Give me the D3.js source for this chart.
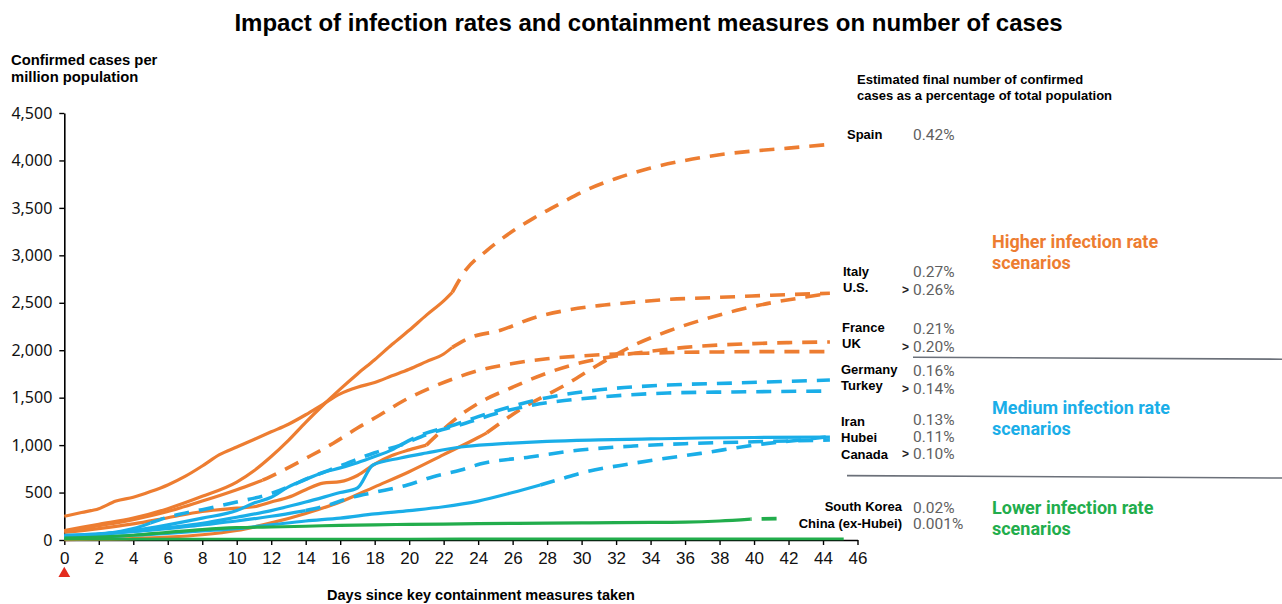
<!DOCTYPE html>
<html>
<head>
<meta charset="utf-8">
<script src="https://cdn.jsdelivr.net/npm/d3@7/dist/d3.min.js"></script>
<style>
  body { margin: 0; background: #fff; }
  svg { display: block; }
</style>
</head>
<body>
<svg id="chart" width="1282" height="604"></svg>
<script>
// Confirmed cases per million population, as [day since containment, cases] pairs.
// "Actual" parts are drawn solid, "projected" parts dashed.
const spainActual = [[0,100],[2,165],[4,230],[6,330],[8,460],[10,610],[11,730],[12,880],[13,1050],[14,1240],[15,1420],[16,1590],[17,1750],[18,1900],[19,2060],[20,2210],[21,2370],[22,2520],[22.5,2610]];
const spainProjected = [[22.5,2610],[23.3,2850],[24.5,3050],[25.8,3230],[27.2,3390],[28.8,3550],[30.3,3690],[32,3810],[34,3920],[36,4000],[38,4060],[40,4100],[42,4130],[44.4,4170]];

const italyActual = [[0,250],[1,290],[2,330],[3,410],[4,450],[5,510],[6,580],[7,670],[8,780],[9,900],[10,980],[11,1060],[12,1140],[13,1220],[14,1320],[15,1430],[16,1540],[17,1610],[18,1660],[19,1730],[20,1800],[21,1880],[22,1960],[22.5,2030]];
const italyProjected = [[22.5,2030],[23.5,2130],[25.3,2210],[27.2,2340],[29.1,2420],[31,2470],[33,2505],[35,2535],[37,2550],[39,2565],[41,2580],[44.4,2600]];

const usActual = [[0,5],[2,8],[4,15],[6,30],[8,55],[10,100],[12,180],[14,280],[16,400],[18,560],[20,720],[22,900],[24,1080],[24.5,1130]];
const usProjected = [[24.5,1130],[26.4,1370],[29.2,1650],[31,1850],[33,2050],[35,2200],[37,2320],[39,2420],[41,2500],[43,2560],[44.4,2600]];

const franceActual = [[0,80],[2,120],[4,170],[6,235],[8,300],[10,335],[11,350],[12,400],[13,450],[14,530],[15,600],[16,615],[17,680],[18,800],[19,890],[20,950],[21,1000]];
const franceProjected = [[21,1000],[22,1170],[23,1320],[24,1440],[26,1610],[28,1760],[30,1870],[32,1940],[34,1990],[36,2030],[38,2055],[40,2070],[42,2080],[44.4,2087]];

const ukActual = [[0,90],[2,150],[4,215],[6,300],[8,410],[10,530],[11.5,630]];
const ukProjected = [[11.5,630],[12.5,717],[14,860],[15.6,1020],[17,1180],[18.3,1317],[19.7,1470],[21.2,1600],[22.8,1715],[24.1,1790],[26,1860],[28,1910],[30,1940],[32,1960],[34,1970],[36,1978],[38,1982],[40,1985],[44.4,1985]];

const germanyActual = [[0,40],[2,60],[4,100],[6,160],[8,230],[10,310],[11,390],[12,450],[13,560],[14,640],[15,710],[16,760],[17,815],[18,880],[19,950],[19.5,1000]];
const germanyProjected = [[19.5,1000],[20.4,1085],[22.6,1212],[24,1300],[26,1410],[28,1500],[30,1560],[32,1600],[35,1633],[38.8,1654],[44.4,1686]];

const turkeyActual = [[0,30],[2,60],[4,120],[5,180]];
const turkeyProjected = [[5,180],[6,240],[8,320],[10,400],[12,490],[13,560],[14,640],[16,780],[18,920],[19.5,1000],[21,1110],[23.3,1233],[25,1330],[27.2,1423],[29,1470],[31.1,1507],[35,1549],[38.8,1560],[44.4,1570]];

const iranActual = [[0,50],[2,65],[4,90],[6,120],[8,160],[10,200],[12,250],[14,310]];
const iranProjected = [[14,310],[15,351],[16.8,456],[18.1,506],[19.9,580],[21.4,667],[23,737],[24.1,800],[27,875],[29.9,948],[33,990],[36,1015],[40,1035],[44.4,1054]];

const hubeiActual = [[0,40],[2,60],[4,90],[6,130],[8,175],[10,240],[12,310],[14,400],[16,500],[17,548],[17.9,790],[19.5,864],[21,917],[23,980],[25,1010],[28,1040],[31,1055],[34,1065],[37,1075],[40,1080],[44.4,1085]];
const hubeiProjected = [];

const canadaActual = [[0,20],[2,30],[4,50],[6,70],[8,95],[10,120],[12,160],[14,200],[16,230],[18,275],[20,310],[22,350],[24,410],[26,500],[27.6,580]];
const canadaProjected = [[27.6,580],[28.6,632],[29.9,703],[33,808],[36.9,913],[40.8,1018],[42,1040],[44.4,1090]];

const southKoreaActual = [[0,20],[2,30],[4,50],[6,80],[8,110],[10,130],[12,137],[14,145],[16,155],[18,160],[20,165],[22,168],[24,172],[26,175],[28,178],[30,180],[32,183],[34,185],[36,188],[38,200],[39.8,220]];
const southKoreaProjected = [[39.8,220],[41.5,226]];

const chinaExHubeiActual = [[0,8],[10,10],[20,11],[30,12],[45.2,12]];
const chinaExHubeiProjected = [];

// Labels
const countryNames = ["Spain","Italy","U.S.","France","UK","Germany","Turkey","Iran","Hubei","Canada","South Korea","China (ex-Hubei)"];
const finalShares = ["0.42%","0.27%","0.26%","0.21%","0.20%","0.16%","0.14%","0.13%","0.11%","0.10%","0.02%","0.001%"];
const stillRising = [false,false,true,false,true,false,true,false,false,true,false,false];
const scenarioNames = [["Higher infection rate","scenarios"],["Medium infection rate","scenarios"],["Lower infection rate","scenarios"]];
const dayTicks = [0,2,4,6,8,10,12,14,16,18,20,22,24,26,28,30,32,34,36,38,40,42,44,46];
const caseTicks = [0,500,1000,1500,2000,2500,3000,3500,4000,4500];

const titleText = "Impact of infection rates and containment measures on number of cases";
const yTitle = ["Confirmed cases per","million population"];
const xTitle = "Days since key containment measures taken";
const shareTitle = ["Estimated final number of confirmed","cases as a percentage of total population"];

// Series table used for drawing
const groupColor = { high: "#ED7D31", medium: "#1AAEE8", low: "#22AD4C" };
const series = [
  { name: "Spain",  group: "high",   actual: spainActual,   projected: spainProjected },
  { name: "Italy",  group: "high",   actual: italyActual,   projected: italyProjected },
  { name: "U.S.",   group: "high",   actual: usActual,      projected: usProjected },
  { name: "France", group: "high",   actual: franceActual,  projected: franceProjected },
  { name: "UK",     group: "high",   actual: ukActual,      projected: ukProjected },
  { name: "Germany",group: "medium", actual: germanyActual, projected: germanyProjected },
  { name: "Turkey", group: "medium", actual: turkeyActual,  projected: turkeyProjected },
  { name: "Iran",   group: "medium", actual: iranActual,    projected: iranProjected },
  { name: "Hubei",  group: "medium", actual: hubeiActual,   projected: hubeiProjected },
  { name: "Canada", group: "medium", actual: canadaActual,  projected: canadaProjected },
  { name: "South Korea", group: "low", actual: southKoreaActual, projected: southKoreaProjected, dashStart: 14 },
  { name: "China (ex-Hubei)", group: "low", actual: chinaExHubeiActual, projected: chinaExHubeiProjected, thin: true }
];

const svg = d3.select("#chart");
const x = d3.scaleLinear().domain([0, 46]).range([64.3, 857.5]);
const y = d3.scaleLinear().domain([0, 4500]).range([540, 113]);

// Title
svg.append("text")
  .attr("x", 648.5).attr("y", 30.5)
  .attr("text-anchor", "middle")
  .style("font-family", "'Liberation Sans', Arial, sans-serif")
  .style("font-weight", "bold").style("font-size", "24px")
  .text(titleText);

// Y axis title
svg.append("g").selectAll("text").data(yTitle).join("text")
  .attr("x", 11).attr("y", (d, i) => 65 + i * 17)
  .style("font-family", "'Liberation Sans', Arial, sans-serif")
  .style("font-weight", "bold").style("font-size", "14.8px")
  .text(d => d);

// Axes
const yAxis = svg.append("g")
  .attr("transform", `translate(${x(0)},0)`)
  .call(d3.axisLeft(y).tickValues(caseTicks).tickFormat(d3.format(",")).tickSize(5).tickSizeOuter(0).tickPadding(7));
yAxis.selectAll("text")
  .style("font-family", "'Noto Sans', 'Open Sans', sans-serif")
  .style("font-size", "16px").attr("fill", "#111");

const xAxis = svg.append("g")
  .attr("transform", `translate(0,${y(0)})`)
  .call(d3.axisBottom(x).tickValues(dayTicks).tickSize(5).tickSizeOuter(0).tickPadding(7));
xAxis.selectAll("text")
  .style("font-family", "'Liberation Sans Narrow', 'Liberation Sans', sans-serif")
  .style("font-size", "17px").attr("fill", "#111");

[yAxis, xAxis].forEach(g => {
  g.select(".domain").attr("stroke", "#000").attr("stroke-width", 1.6);
  g.selectAll(".tick line").attr("stroke", "#000").attr("stroke-width", 1.4);
});

// Marker below day 0
svg.append("path")
  .attr("d", d3.symbol(d3.symbolTriangle, 60)())
  .attr("transform", `translate(${x(0)},573.5)`)
  .attr("fill", "#E32B1E");

// X axis title
svg.append("text")
  .attr("x", 481).attr("y", 600)
  .attr("text-anchor", "middle")
  .style("font-family", "'Liberation Sans', Arial, sans-serif")
  .style("font-weight", "bold").style("font-size", "14.5px")
  .text(xTitle);

// Lines
const line = d3.line().x(d => x(d[0])).y(d => y(d[1])).curve(d3.curveMonotoneX);
const lineG = svg.append("g").attr("fill", "none").attr("stroke-linecap", "butt");
const drawOrder = ["high", "medium", "low"];
drawOrder.forEach(grp => {
  series.filter(s => s.group === grp).forEach(s => {
    const c = groupColor[s.group];
    if (s.actual.length) {
      lineG.append("path").attr("d", line(s.actual))
        .attr("stroke", c).attr("stroke-width", s.thin ? 2.6 : 3.2)
        .attr("stroke-linejoin", "round");
    }
    if (s.projected.length) {
      lineG.append("path").attr("d", line(s.projected))
        .attr("stroke", c).attr("stroke-width", 3.6)
        .attr("stroke-dasharray", "15,10")
        .attr("stroke-dashoffset", s.dashStart || 0);
    }
  });
});

// Right-hand annotation panel
const labelFont = "'Liberation Sans', Arial, sans-serif";
svg.append("g").selectAll("text").data(shareTitle).join("text")
  .attr("x", 857).attr("y", (d, i) => 83.5 + i * 16.5)
  .style("font-family", labelFont).style("font-weight", "bold").style("font-size", "13px")
  .text(d => d);

// name x, anchor, baseline y for name and share rows
const rowLayout = [
  { nx: 847, anchor: "start", ny: 138.5, sy: 139.5 },
  { nx: 843, anchor: "start", ny: 275.5, sy: 276.5 },
  { nx: 843, anchor: "start", ny: 291.5, sy: 295 },
  { nx: 842, anchor: "start", ny: 331.5, sy: 333.5 },
  { nx: 842, anchor: "start", ny: 347.5, sy: 352 },
  { nx: 841, anchor: "start", ny: 373.5, sy: 375.5 },
  { nx: 841, anchor: "start", ny: 389.5, sy: 394 },
  { nx: 841, anchor: "start", ny: 426, sy: 425 },
  { nx: 841, anchor: "start", ny: 442, sy: 441.5 },
  { nx: 841, anchor: "start", ny: 458.5, sy: 459 },
  { nx: 902, anchor: "end",   ny: 511, sy: 512.5 },
  { nx: 902, anchor: "end",   ny: 527.5, sy: 529 }
];
const panel = svg.append("g");
countryNames.forEach((name, i) => {
  const r = rowLayout[i];
  panel.append("text").attr("x", r.nx).attr("y", r.ny).attr("text-anchor", r.anchor)
    .style("font-family", labelFont).style("font-weight", "bold").style("font-size", "13px")
    .attr("fill", "#000").text(name);
  panel.append("text").attr("x", 913).attr("y", r.sy)
    .style("font-family", "Roboto, 'Noto Sans', sans-serif").style("font-size", "15.5px")
    .attr("fill", "#5f5f5f").text(finalShares[i]);
  if (stillRising[i]) {
    panel.append("text").attr("x", 902).attr("y", r.sy - 1.5)
      .style("font-family", labelFont).style("font-weight", "bold").style("font-size", "12px")
      .attr("fill", "#222").text(">");
  }
});

// Separators between scenario groups
svg.append("line").attr("x1", 913).attr("y1", 357.2).attr("x2", 1282).attr("y2", 359.2)
  .attr("stroke", "#6b7079").attr("stroke-width", 1.6);
svg.append("line").attr("x1", 847).attr("y1", 475.6).attr("x2", 1282).attr("y2", 478)
  .attr("stroke", "#6b7079").attr("stroke-width", 1.6);

// Scenario headings
const scenarioLayout = [
  { y: 247.5, color: groupColor.high },
  { y: 413.5, color: groupColor.medium },
  { y: 513.5, color: groupColor.low }
];
scenarioNames.forEach((lines, i) => {
  svg.append("g").selectAll("text").data(lines).join("text")
    .attr("x", 992).attr("y", (d, j) => scenarioLayout[i].y + j * 21)
    .style("font-family", "Roboto, 'Liberation Sans', sans-serif")
    .style("font-weight", "bold").style("font-size", "18px")
    .attr("fill", scenarioLayout[i].color)
    .text(d => d);
});
</script>
</body>
</html>
